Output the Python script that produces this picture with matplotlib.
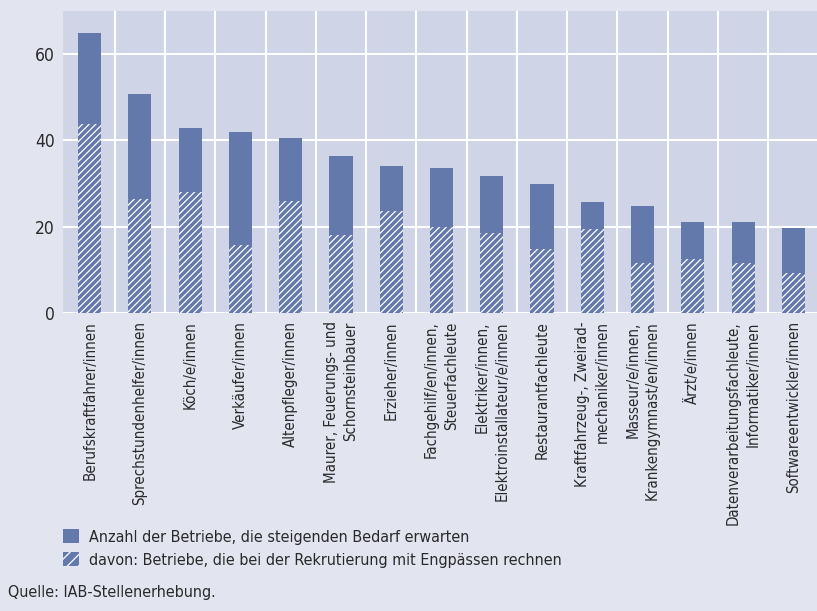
import numpy as np
import matplotlib.pyplot as plt
from matplotlib.patches import Patch

berufe = ["Berufskraftfahrer/innen",
          "Sprechstundenhelfer/innen",
          "Köch/e/innen",
          "Verkäufer/innen",
          "Altenpfleger/innen",
          "Maurer, Feuerungs- und\nSchornsteinbauer",
          "Erzieher/innen",
          "Fachgehilf/en/innen,\nSteuerfachleute",
          "Elektriker/innen,\nElektroinstallateur/e/innen",
          "Restaurantfachleute",
          "Kraftfahrzeug-, Zweirad-\nmechaniker/innen",
          "Masseur/e/innen,\nKrankengymnast/en/innen",
          "Ärzt/e/innen",
          "Datenverarbeitungsfachleute,\nInformatiker/innen",
          "Softwareentwickler/innen"]
steigend = [64.9, 50.7, 42.9, 41.9, 40.5, 36.4, 34.0, 33.6, 31.7, 29.9, 25.7, 24.8, 21.1, 21.1, 19.7]
engpass = [43.7, 26.4, 28.0, 15.8, 25.9, 18.1, 23.7, 20.0, 18.6, 14.8, 19.5, 11.6, 12.5, 11.6, 9.3]

bg_outer = "#e2e4f0"
bg_axes = "#cfd4e7"
bar_col = "#6479ab"
text_col = "#2a2a2a"

plt.rcParams['font.family'] = ['DejaVu Sans']
plt.rcParams['font.stretch'] = 'condensed'
plt.rcParams['hatch.linewidth'] = 0.9

fig = plt.figure(figsize=(8.17, 6.11), dpi=100, facecolor=bg_outer)
ax = fig.add_axes([63/817, 1-313/611, 1-63/817, 302/611])
ax.set_facecolor(bg_axes)

x = np.arange(len(berufe))
ax.bar(x, steigend, width=0.46, color=bar_col, linewidth=0, zorder=3)
ax.bar(x, engpass, width=0.46, color=bar_col, edgecolor="white", linewidth=0,
       hatch="/////", zorder=4)

ax.set_xlim(-0.53, 14.47)
ax.set_ylim(0, 70)
ax.set_yticks([0, 20, 40, 60])
ax.set_xticks(x)
ax.set_xticklabels(berufe, rotation=90, ha="center", va="top",
                   multialignment="right", fontsize=10.8, color=text_col,
                   linespacing=1.4)
ax.set_xticks(x[:-1] + 0.5, minor=True)
ax.tick_params(axis="both", which="both", length=0)
ax.tick_params(axis="y", labelsize=12.5, colors=text_col, pad=6)
ax.tick_params(axis="x", pad=6)
ax.grid(axis="y", which="major", color="white", linewidth=1.5, zorder=1)
ax.grid(axis="x", which="minor", color="white", linewidth=1.5, zorder=1)
ax.set_axisbelow(True)
for s in ax.spines.values():
    s.set_visible(False)

handles = [Patch(facecolor=bar_col, linewidth=0),
           Patch(facecolor=bar_col, edgecolor="white", linewidth=0, hatch="///")]
labels = ["Anzahl der Betriebe, die steigenden Bedarf erwarten",
          "davon: Betriebe, die bei der Rekrutierung mit Engpässen rechnen"]
fig.legend(handles, labels, loc="upper left", bbox_to_anchor=(52/817, 1-518/611),
           frameon=False, fontsize=11.5, handlelength=1.0, handleheight=1.0,
           handletextpad=0.6, labelspacing=0.45, borderpad=0.2,
           labelcolor=text_col)

fig.text(8/817, 1-593/611, "Quelle: IAB-Stellenerhebung.", fontsize=11.5,
         va="center", ha="left", color=text_col)

fig.savefig("out.png", dpi=100, facecolor=bg_outer)
